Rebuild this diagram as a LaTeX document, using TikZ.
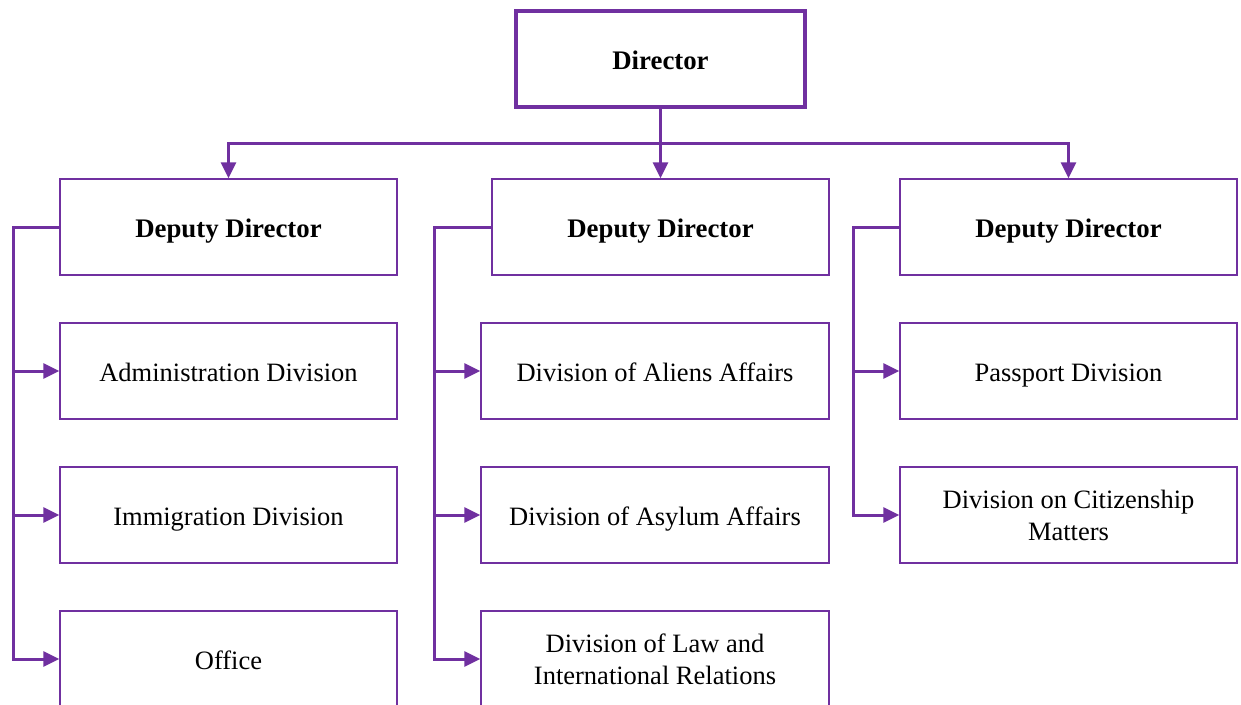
\documentclass[tikz,border=0pt]{standalone}
\usepackage{fontspec}
\setmainfont{Liberation Serif}
\usetikzlibrary{arrows.meta}
\definecolor{org}{HTML}{7030A0}
\tikzset{
  x=1pt, y=-1pt,
  box/.style={draw=org, line width=1.4pt, rectangle, minimum width=337pt, minimum height=96pt,
    inner sep=2pt, text height=22pt, text depth=2pt, align=center,
    font=\fontsize{26.5}{32}\selectfont, text=black},
  twoline/.style={text height=, text depth=},
  dirbox/.style={box, line width=4pt, minimum width=289pt, font=\fontsize{26.8}{32}\selectfont\bfseries},
  depbox/.style={box, font=\fontsize{26.8}{32}\selectfont\bfseries},
  conn/.style={draw=org, line width=3pt},
  arr/.style={conn, -{Triangle[length=16pt,width=15pt]}},
}
\begin{document}
\begin{tikzpicture}
\useasboundingbox (0,0) rectangle (1241,704);
\clip (0,0) rectangle (1241,704);
\fill[white] (0,0) rectangle (1241,704);
% top
\node[dirbox] (dir) at (660.5,59) {Director};
\node[depbox] (d1) at (228.5,227) {Deputy Director};
\node[depbox] (d2) at (660.5,227) {Deputy Director};
\node[depbox] (d3) at (1068.5,227) {Deputy Director};
% left column
\node[box] (a1) at (228.5,371) {Administration Division};
\node[box] (a2) at (228.5,515) {Immigration Division};
\node[box] (a3) at (228.5,659) {Office};
% middle column
\node[box, minimum width=348pt] (b1) at (655,371) {Division of Aliens Affairs};
\node[box, minimum width=348pt] (b2) at (655,515) {Division of Asylum Affairs};
\node[box, twoline, minimum width=348pt] (b3) at (655,659) {Division of Law and\\International Relations};
% right column
\node[box] (c1) at (1068.5,371) {Passport Division};
\node[box, twoline] (c2) at (1068.5,515) {Division on Citizenship\\Matters};
% connectors
\coordinate (bus) at (660.5,143);
\draw[arr] (dir.south) -- (d2.north);
\draw[arr] (bus) -| (d1.north);
\draw[arr] (bus) -| (d3.north);
\coordinate (L1) at (13,227);
\coordinate (L2) at (434,227);
\coordinate (L3) at (853,227);
\draw[arr] (d1.west) -- (L1) |- (a3.west);
\draw[arr] (L1 |- a1.west) -- (a1.west);
\draw[arr] (L1 |- a2.west) -- (a2.west);
\draw[arr] (d2.west) -- (L2) |- (b3.west);
\draw[arr] (L2 |- b1.west) -- (b1.west);
\draw[arr] (L2 |- b2.west) -- (b2.west);
\draw[arr] (d3.west) -- (L3) |- (c2.west);
\draw[arr] (L3 |- c1.west) -- (c1.west);
\end{tikzpicture}
\end{document}
